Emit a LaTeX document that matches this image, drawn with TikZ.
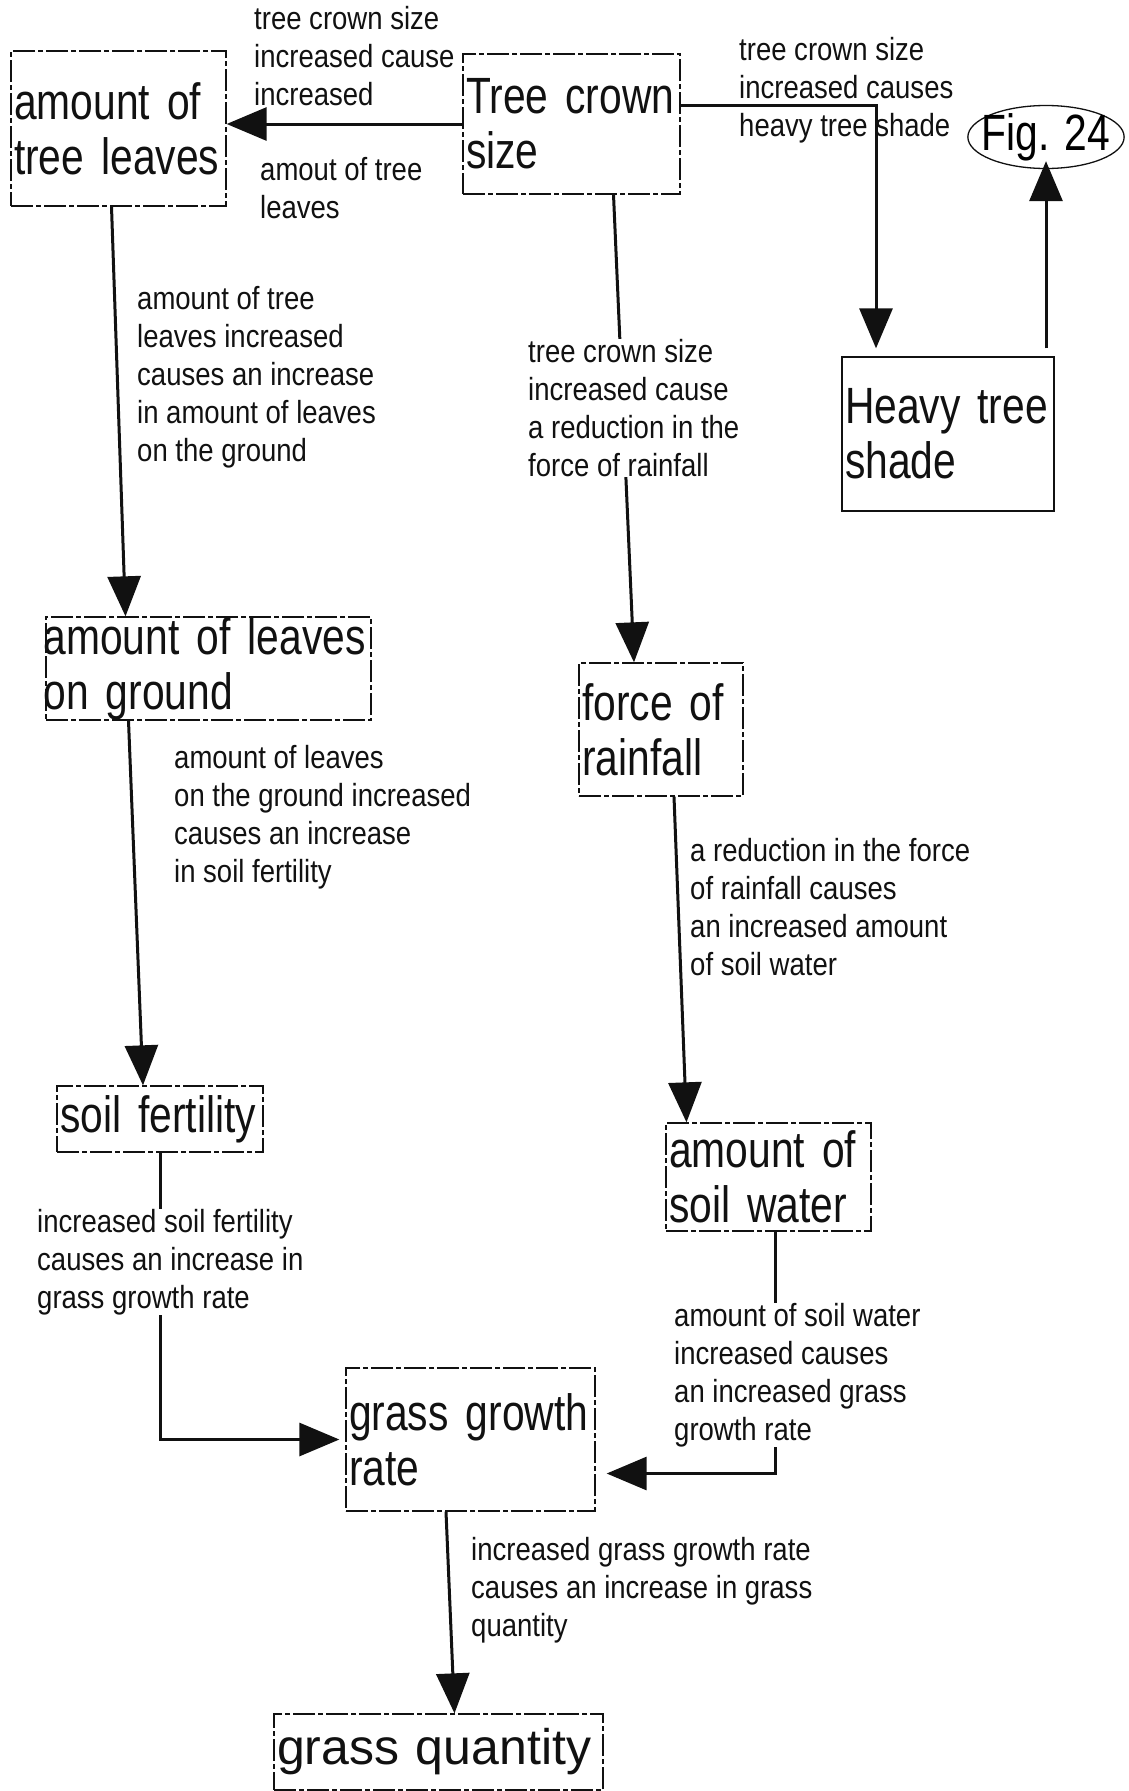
\documentclass[tikz,border=0pt]{standalone}
\usepackage{fontspec}
\usetikzlibrary{arrows.meta,shapes.geometric}
\newfontfamily\boxface[FakeStretch=0.8]{Liberation Sans}
\newfontfamily\labface[FakeStretch=0.86]{Liberation Sans}
\newfontfamily\wideface{Liberation Sans}
\definecolor{ink}{HTML}{111111}
\newcommand{\boxfont}{\boxface\fontsize{51}{55}\selectfont}
\newcommand{\widefont}{\wideface\fontsize{50}{55}\selectfont}
\newcommand{\labfont}{\labface\fontsize{32}{38}\selectfont}
\tikzset{
  factor/.style={draw=ink,line width=1.3pt,dash pattern=on 22pt off 3pt on 5pt off 3pt,
    font=\boxfont,text=ink,align=left,inner sep=3pt},
  cause/.style={anchor=north west,inner sep=0,font=\labfont,text=ink,align=left},
  link/.style={draw=ink,line width=3pt,-{Triangle[length=40pt,width=33pt]}},
}
\begin{document}
\begin{tikzpicture}[x=1pt,y=-1pt]
\useasboundingbox (0,0) rectangle (1129,1791);
% factors
\node[factor,minimum height=155pt,text width=209pt] (leaves) at (118.5,128.5) {amount of\\tree leaves};
\node[factor,minimum height=140pt,text width=211pt] (crown) at (571.5,124) {Tree crown\\size};
\node[factor,solid,minimum height=154pt,text width=206pt] (shade) at (948,434) {Heavy tree\\shade};
\node[draw=ink,line width=1.3pt,ellipse,minimum width=154pt,minimum height=63pt,
  inner xsep=-9pt,inner ysep=-2pt,font=\boxfont] (fig) at (1046,137) {Fig. 24};
\node[factor,minimum height=103pt,text width=330pt,inner xsep=-2.5pt,inner ysep=0pt] (ground) at (208.5,668.5) {amount of leaves\\on ground};
\node[factor,minimum height=133pt,text width=158pt] (rain) at (661,729.5) {force of\\rainfall};
\node[factor,minimum height=66pt,text width=200pt] (fert) at (160,1119) {soil fertility};
\node[factor,minimum height=108pt,text width=199pt] (water) at (768.5,1177) {amount of\\soil water};
\node[factor,minimum height=143pt,text width=243pt] (growth) at (470.5,1439.5) {grass growth\\rate};
\node[factor,minimum height=76pt,text width=323pt,font=\widefont] (qty) at (438.5,1752) {grass quantity};
% links
\coordinate (shadebend) at (876,105);
\draw[link] (crown.west) -- (crown.west -| leaves.east);
\draw[link,shorten >=8pt] ([yshift=19pt]crown.east) -- (shadebend) -- (shadebend |- shade.north);
\draw[link,shorten <=8pt,shorten >=-8pt] (shade.north -| fig.south) -- (fig.south);
\draw[link] ([xshift=42pt]crown.south) -- ([xshift=-27pt]rain.north);
\draw[link] ([xshift=-7pt]leaves.south) -- ([xshift=-83pt]ground.north);
\draw[link] ([xshift=-80pt]ground.south) -- ([xshift=-17pt]fert.north);
\draw[link] ([xshift=13pt]rain.south) -- ([xshift=-82pt]water.north);
\draw[link,shorten >=6pt] (fert.south) |- (growth.west);
\draw[link,shorten >=11pt] ([xshift=6.5pt]water.south) |- ([yshift=-34pt]growth.east);
\draw[link] ([xshift=-24.5pt]growth.south) -- ([xshift=16pt]qty.north);
% causes
\node[cause] (c1) at (254,6) {tree crown size\\increased cause\\increased};
\node[cause] (c2) at (260,157) {amout of tree\\leaves};
\node[cause] (c3) at (739,37) {tree crown size\\increased causes\\heavy tree shade};
\node[cause] (c4) at (137,286) {amount of tree\\leaves increased\\causes an increase\\in amount of leaves\\on the ground};
\node[cause,fill=white] (c5) at (528,339) {tree crown size\\increased cause\\a reduction in the\\force of rainfall};
\node[cause] (c6) at (174,745) {amount of leaves\\on the ground increased\\causes an increase\\in soil fertility};
\node[cause] (c7) at (690,838) {a reduction in the force\\of rainfall causes\\an increased amount\\of soil water};
\node[cause,fill=white] (c8) at (37,1209) {increased soil fertility\\causes an increase in\\grass growth rate};
\node[cause,fill=white] (c9) at (674,1303) {amount of soil water\\increased causes\\an increased grass\\growth rate};
\node[cause] (c10) at (471,1537) {increased grass growth rate\\causes an increase in grass\\quantity};
\end{tikzpicture}
\end{document}
